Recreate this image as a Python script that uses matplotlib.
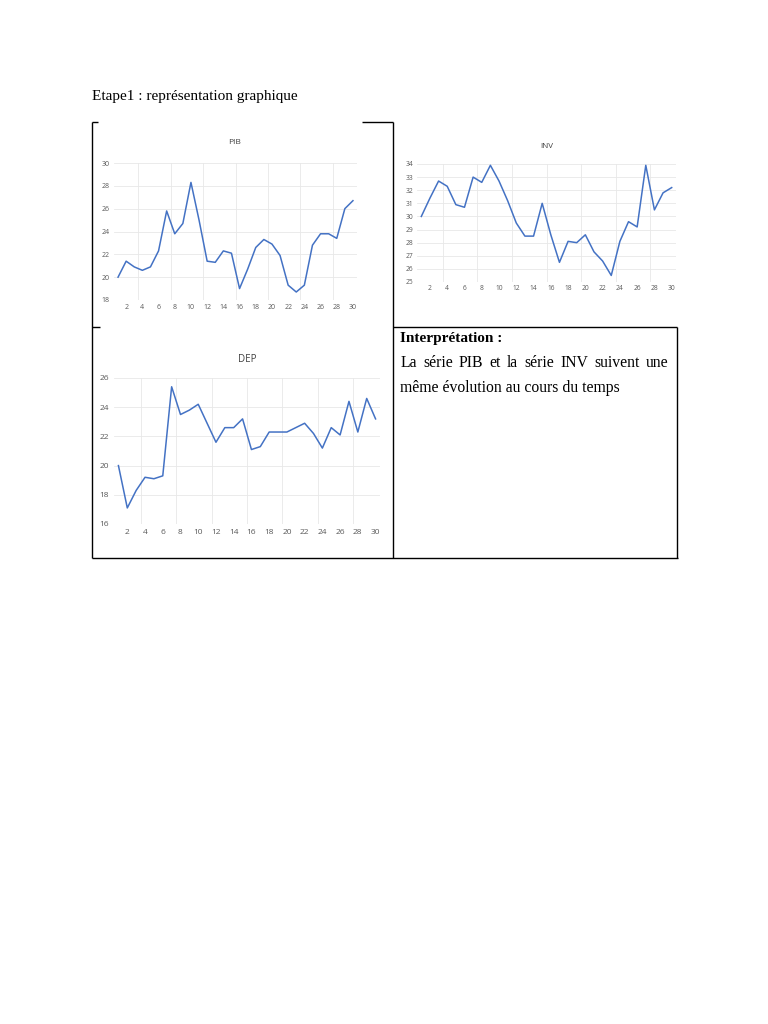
import matplotlib
matplotlib.use("Agg")
import matplotlib.pyplot as plt
from matplotlib.lines import Line2D

# ---------------- data ----------------
periods = list(range(1, 31))
xtick_labels = list(range(2, 31, 2))

pib = [20.0, 21.4, 20.9, 20.6, 20.9, 22.3, 25.8, 23.8, 24.7, 28.3,
       25.0, 21.4, 21.3, 22.3, 22.1, 19.0, 20.7, 22.6, 23.3, 22.9,
       21.9, 19.3, 18.7, 19.3, 22.8, 23.8, 23.8, 23.4, 26.0, 26.7]

inv = [30.0, 31.4, 32.7, 32.3, 30.9, 30.7, 33.0, 32.6, 33.9, 32.7,
       31.2, 29.5, 28.5, 28.5, 31.0, 28.6, 26.5, 28.1, 28.0, 28.6,
       27.3, 26.6, 25.5, 28.1, 29.6, 29.2, 33.9, 30.5, 31.8, 32.2]

dep = [20.0, 17.1, 18.3, 19.2, 19.1, 19.3, 25.4, 23.5, 23.8, 24.2,
       22.9, 21.6, 22.6, 22.6, 23.2, 21.1, 21.3, 22.3, 22.3, 22.3,
       22.6, 22.9, 22.2, 21.2, 22.6, 22.1, 24.4, 22.3, 24.6, 23.2]

pib_yticks = [18, 20, 22, 24, 26, 28, 30]
inv_yticks = list(range(25, 35))
dep_yticks = [16, 18, 20, 22, 24, 26]

heading = "Etape1 : représentation graphique"
interp_title = "Interprétation :"
interp_line1 = "La série PIB et la série INV suivent une"
interp_line2 = "même évolution au cours du temps"

# ---------------- layout ----------------
W, H = 768, 1024
fig = plt.figure(figsize=(W / 100, H / 100), dpi=100)
fig.patch.set_facecolor("white")

LINE_COLOR = "#4472C4"
GRID_COLOR = "#e8e8e8"
LABEL_COLOR = "#595959"
TICK_FONT = ["Open Sans", "DejaVu Sans"]


def rect(l, t, r, b):
    return [l / W, 1 - b / H, (r - l) / W, (b - t) / H]


def fline(x0, y0, x1, y1, lw=1.0):
    fig.add_artist(Line2D([x0 / W, x1 / W], [1 - y0 / H, 1 - y1 / H],
                          transform=fig.transFigure, color="black",
                          linewidth=lw, solid_capstyle="butt"))


def chart(box, values, yticks, title, title_xy, fs, ypad, xpad):
    ax = fig.add_axes(rect(*box))
    ax.plot(periods, values, color=LINE_COLOR, linewidth=1.1)
    ax.set_xlim(0.5, 30.5)
    ax.set_ylim(yticks[0], yticks[-1])
    ax.set_yticks(yticks)
    ax.set_xticks(xtick_labels)
    ax.set_xticklabels([str(v) for v in xtick_labels])
    ax.set_yticklabels([str(v) for v in yticks])
    for s in ax.spines.values():
        s.set_visible(False)
    ax.tick_params(axis="y", length=0, pad=ypad, labelsize=fs, labelcolor=LABEL_COLOR)
    ax.tick_params(axis="x", length=0, pad=xpad, labelsize=fs, labelcolor=LABEL_COLOR)
    for lab in ax.get_xticklabels() + ax.get_yticklabels():
        lab.set_family(TICK_FONT)
    for y in yticks:
        ax.axhline(y, color=GRID_COLOR, linewidth=0.6, zorder=0)
    for xv in [3.5, 7.5, 11.5, 15.5, 19.5, 23.5, 27.5]:
        ax.axvline(xv, color=GRID_COLOR, linewidth=0.6, zorder=0)
    fig.text(title_xy[0] / W, 1 - title_xy[1] / H, title, ha="center", va="center",
             fontsize=fs + 1.0, color="#404040", family=TICK_FONT)
    return ax


chart((114, 163, 357, 300), pib, pib_yticks, "PIB", (235, 143), 5.0, 3.0, 3.0)
chart((417, 164, 676, 282), inv, inv_yticks, "INV", (547, 147), 4.8, 2.5, 2.5)
chart((114, 378, 380, 524), dep, dep_yticks, "DEP", (247, 359), 6.0, 3.5, 3.5)

# ---------------- table borders ----------------
fline(92, 122, 92, 558)        # left
fline(393, 122, 393, 558)      # middle
fline(677, 327, 677, 558)      # right
fline(91.5, 558, 677.5, 558)   # bottom
fline(92, 122, 98, 122)        # top-left corner piece
fline(362, 122, 393, 122)      # top piece
fline(92, 327, 100, 327)       # row separator tick (left)
fline(393, 327, 677, 327)      # row separator (right)

# ---------------- text ----------------
SERIF = ["Liberation Serif", "DejaVu Serif"]
fig.text(92 / W, 1 - 100 / H, heading, ha="left", va="baseline",
         fontsize=11, family=SERIF)
fig.text(400.5 / W, 1 - 341.7 / H, interp_title, ha="left", va="baseline",
         fontsize=11, family=SERIF, fontweight="bold")

# justified first line
words = interp_line1.split()
tobjs = [fig.text(0, 1 - 366.7 / H, w, ha="left", va="baseline",
                  fontsize=11.3, family=SERIF) for w in words]
fig.canvas.draw()
renderer = fig.canvas.get_renderer()
widths = [t.get_window_extent(renderer).width for t in tobjs]
x_left, x_right = 400.5, 668.0
gap = (x_right - x_left - sum(widths)) / (len(words) - 1)
x = x_left
for t, w in zip(tobjs, widths):
    t.set_x(x / W)
    x += w + gap

fig.text(400.5 / W, 1 - 391.7 / H, interp_line2, ha="left", va="baseline",
         fontsize=11.3, family=SERIF)

fig.savefig("out.png", dpi=100, facecolor="white")
